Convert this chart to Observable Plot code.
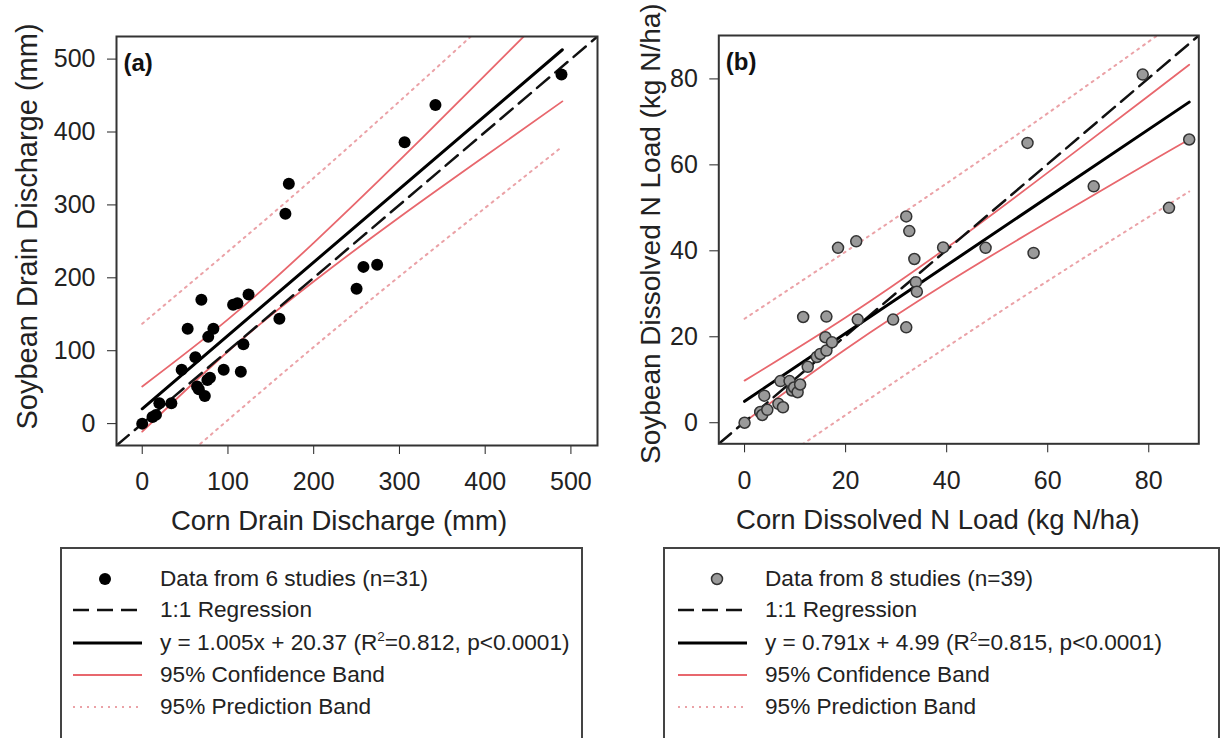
<!DOCTYPE html>
<html>
<head>
<meta charset="utf-8">
<script src="https://cdn.jsdelivr.net/npm/d3@7"></script>
<script src="https://cdn.jsdelivr.net/npm/@observablehq/plot@0.6"></script>
<style>
  html, body { margin: 0; padding: 0; background: white; }
  body { font-family: "Liberation Sans", Arial, sans-serif; color: #222; }
  #wrap { position: relative; width: 1223px; height: 738px; overflow: hidden; background: white; }
  .panel { position: absolute; top: 0; }
  .legend { position: absolute; top: 547px; height: 200px; border: 2px solid #444; box-sizing: border-box; background: white; }
  .row { position: absolute; left: 0; height: 32px; line-height: 32px; font-size: 22.6px; white-space: nowrap; color: #222; }
  .row svg { position: absolute; top: 0; }
  .row span { position: absolute; top: 0; }
  sup { font-size: 0.6em; line-height: 0; }
</style>
</head>
<body>
<div id="wrap">
  <div id="pa" class="panel" style="left:0px"></div>
  <div id="pb" class="panel" style="left:610px"></div>
  <div id="la" class="legend" style="left:60px; width:523px"></div>
  <div id="lb" class="legend" style="left:663px; width:557px"></div>
</div>
<script>
// ---------- Panel (a): drain discharge (mm) ----------
const cornA = [0,12,16,20,34,46,53,62,64,66,69,73,76,79,77,83,95,106,111,115,118,124,160,167,171,250,258,274,306,342,489];
const soyA  = [0,9,12,28,28,74,130,91,51,47,170,38,60,63,119,130,74,163,165,71,109,177,144,288,329,185,215,218,386,437,479];
const ticksA = [0,100,200,300,400,500];
const domainA = [-30, 531];
const regA = {slope: 1.005, intercept: 20.37, xmin: 0, xmax: 490};
const bandXA = [0,100,200,300,400,490];
const confUpA = [51,143,248,361,478,584];
const confLoA = [-11,99,195,283,367,442];
const predUpA = [137,236,337,442,549,646];
const predLoA = [-97,5,105,202,296,380];

// ---------- Panel (b): dissolved N load (kg N/ha) ----------
const cornB = [0,3.1,3.5,3.9,4.5,6.7,7.6,7.1,8.9,9.4,9.8,10.5,11,11.6,12.5,14.3,15,16,16.2,16.2,17.3,18.5,22.1,22.4,29.4,32,32,32.6,33.6,33.9,34.1,39.3,47.7,56,57.2,69.1,78.8,84,88];
const soyB  = [0,2.5,1.8,6.3,3,4.4,3.6,9.7,9.7,7.5,8.2,7.1,8.9,24.6,13,15.3,16,19.9,24.7,16.8,18.7,40.7,42.2,24,24,48,22.2,44.6,38.1,32.7,30.5,40.8,40.7,65.1,39.5,55,81,50,65.9];
const ticksB = [0,20,40,60,80];
const domainBX = [-5.1, 89.9];
const domainBY = [-4.9, 90.1];
const regB = {slope: 0.791, intercept: 4.99, xmin: 0, xmax: 88};
const bandXB = [0,20,40,60,80,88];
const confUpB = [9.8,24.5,40.7,58.2,76.1,83.3];
const confLoB = [0.2,17.1,32.5,46.7,60.5,65.9];
const predUpB = [24.2,39.8,55.7,72.0,88.7,95.4];
const predLoB = [-14.2,1.8,17.6,33.0,47.9,53.8];

const labelsA = {x: "Corn Drain Discharge (mm)", y: "Soybean Drain Discharge (mm)", tag: "(a)"};
const labelsB = {x: "Corn Dissolved N Load (kg N/ha)", y: "Soybean Dissolved N Load (kg N/ha)", tag: "(b)"};

const legendA = ["Data from 6 studies (n=31)", "1:1 Regression", "y = 1.005x + 20.37 (R<sup>2</sup>=0.812, p&lt;0.0001)", "95% Confidence Band", "95% Prediction Band"];
const legendB = ["Data from 8 studies (n=39)", "1:1 Regression", "y = 0.791x + 4.99 (R<sup>2</sup>=0.815, p&lt;0.0001)", "95% Confidence Band", "95% Prediction Band"];

const CONF = "#e8676d", PRED = "#eba2a7";
const FONT = "Liberation Sans, Arial, sans-serif";

function panel(o) {
  const pts = o.xs.map((x, i) => ({x, y: o.ys[i]}));
  const band = (ys) => o.bandX.map((x, i) => ({x, y: ys[i]}));
  const reg = [o.reg.xmin, o.reg.xmax].map(x => ({x, y: o.reg.slope * x + o.reg.intercept}));
  const diag = [{x: o.dx[0], y: o.dy[0]}, {x: o.dx[1], y: o.dy[1]}];
  return Plot.plot({
    width: o.width, height: 545,
    marginLeft: o.ml, marginRight: o.mr, marginTop: o.mt, marginBottom: o.mb,
    style: {fontFamily: FONT, fontSize: "25px", color: "#222", background: "white", overflow: "visible"},
    x: {domain: o.dx, ticks: o.ticks, tickSize: 9, tickPadding: 18, label: null, tickFormat: d => String(d)},
    y: {domain: o.dy, ticks: o.ticks, tickSize: 9, tickPadding: 12, label: null, tickFormat: d => String(d)},
    marks: [
      Plot.line(band(o.predUp), {x: "x", y: "y", stroke: PRED, strokeWidth: 2, strokeDasharray: "2,5", curve: "natural", clip: true}),
      Plot.line(band(o.predLo), {x: "x", y: "y", stroke: PRED, strokeWidth: 2, strokeDasharray: "2,5", curve: "natural", clip: true}),
      Plot.line(band(o.confUp), {x: "x", y: "y", stroke: CONF, strokeWidth: 1.8, curve: "natural", clip: true}),
      Plot.line(band(o.confLo), {x: "x", y: "y", stroke: CONF, strokeWidth: 1.8, curve: "natural", clip: true}),
      Plot.line(diag, {x: "x", y: "y", stroke: "#111", strokeWidth: 2.5, strokeDasharray: "16,8", clip: true}),
      Plot.line(reg, {x: "x", y: "y", stroke: "#000", strokeWidth: 3, clip: true}),
      Plot.dot(pts, {x: "x", y: "y", r: o.r, fill: o.fill, stroke: o.stroke, strokeWidth: o.sw}),
      Plot.frame({stroke: "#333", strokeWidth: 2}),
      Plot.text([o.labels.tag], {frameAnchor: "top-left", dx: 7, dy: 17, lineAnchor: "top", textAnchor: "start", fontSize: 24, fontWeight: "bold", fill: "#111"}),
      Plot.text([o.labels.x], {frameAnchor: "bottom", dx: o.xlDx, dy: 76, lineAnchor: "middle", textAnchor: "middle", fontSize: 27.5, fill: "#222"}),
      Plot.text([o.labels.y], {frameAnchor: "left", dx: o.ylDx, dy: o.ylDy, rotate: -90, lineAnchor: "middle", textAnchor: "middle", fontSize: o.ylFs, fill: "#222"})
    ]
  });
}

document.getElementById("pa").appendChild(panel({
  xs: cornA, ys: soyA, ticks: ticksA, dx: domainA, dy: domainA, reg: regA,
  bandX: bandXA, confUp: confUpA, confLo: confLoA, predUp: predUpA, predLo: predLoA,
  width: 610, ml: 116, mr: 13, mt: 36, mb: 100, r: 6, fill: "#000", stroke: "none", sw: 0,
  labels: labelsA, xlDx: -18, ylDx: -89, ylDy: -14.5, ylFs: 29
}));
document.getElementById("pb").appendChild(panel({
  xs: cornB, ys: soyB, ticks: ticksB, dx: domainBX, dy: domainBY, reg: regB,
  bandX: bandXB, confUp: confUpB, confLo: confLoB, predUp: predUpB, predLo: predLoB,
  width: 613, ml: 108.3, mr: 24.7, mt: 35, mb: 101.7, r: 5.5, fill: "#9a9a9a", stroke: "#333", sw: 1.5,
  labels: labelsB, xlDx: -21, ylDx: -68, ylDy: -6, ylFs: 28
}));

// ---------- Legends ----------
function legend(el, texts, o) {
  const centers = [32, 63, 96, 128, 160];
  const kinds = ["dot", "dash", "solid", "conf", "pred"];
  texts.forEach((t, i) => {
    const row = document.createElement("div");
    row.className = "row";
    row.style.top = (centers[i] - 16 - 2) + "px";
    row.style.width = "100%";
    const ns = "http://www.w3.org/2000/svg";
    const svg = document.createElementNS(ns, "svg");
    svg.setAttribute("width", o.x1 + 4); svg.setAttribute("height", 32);
    svg.style.left = "0px";
    let el2;
    if (kinds[i] === "dot") {
      el2 = document.createElementNS(ns, "circle");
      el2.setAttribute("cx", o.dotX); el2.setAttribute("cy", 16); el2.setAttribute("r", o.dotR);
      el2.setAttribute("fill", o.dotFill); el2.setAttribute("stroke", o.dotStroke); el2.setAttribute("stroke-width", o.dotSw);
    } else {
      el2 = document.createElementNS(ns, "line");
      el2.setAttribute("x1", o.x0); el2.setAttribute("x2", o.x1); el2.setAttribute("y1", 16); el2.setAttribute("y2", 16);
      const st = {dash: ["#111", 2.5, "16,8"], solid: ["#000", 3, null], conf: [CONF, 1.8, null], pred: [PRED, 2, "2,5"]}[kinds[i]];
      el2.setAttribute("stroke", st[0]); el2.setAttribute("stroke-width", st[1]);
      if (st[2]) el2.setAttribute("stroke-dasharray", st[2]);
    }
    svg.appendChild(el2);
    row.appendChild(svg);
    const span = document.createElement("span");
    span.style.left = o.textX + "px";
    span.innerHTML = t;
    row.appendChild(span);
    el.appendChild(row);
  });
}
legend(document.getElementById("la"), legendA, {x0: 11, x1: 80, dotX: 43, dotR: 6, dotFill: "#000", dotStroke: "none", dotSw: 0, textX: 98});
legend(document.getElementById("lb"), legendB, {x0: 13, x1: 82, dotX: 52, dotR: 5.5, dotFill: "#9a9a9a", dotStroke: "#333", dotSw: 1.5, textX: 100});
</script>
</body>
</html>
